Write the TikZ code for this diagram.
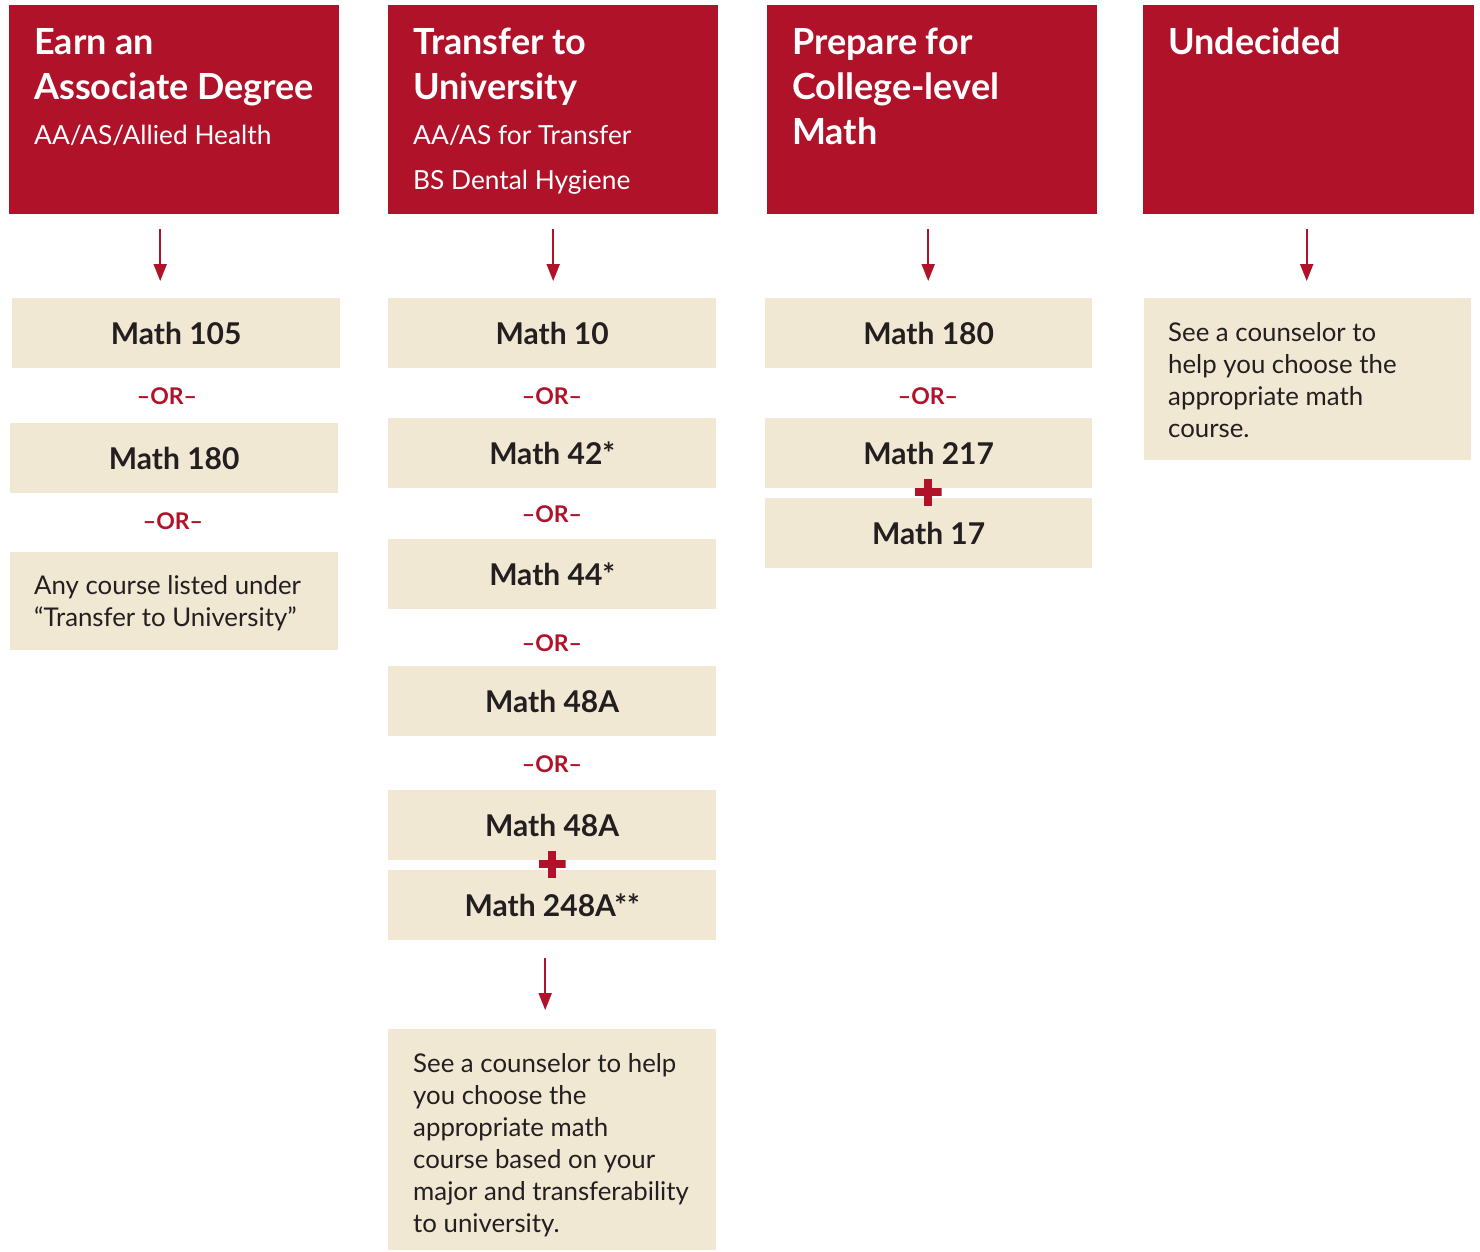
\documentclass[tikz,border=0pt]{standalone}
\usepackage{fontspec}
\setmainfont{Lato}
\usetikzlibrary{arrows.meta,positioning}
\definecolor{cred}{HTML}{AF1229}
\definecolor{cbeige}{HTML}{F1E8D3}
\definecolor{cink}{HTML}{231F20}
\newcommand\hdsub{\fontsize{26.3}{45}\selectfont\mdseries}

\tikzset{
  head/.style={fill=cred, minimum width=330pt, minimum height=209pt, anchor=north west, inner sep=0},
  headtxt/.style={anchor=north west, inner sep=0, align=left, text=white, font=\fontsize{36}{45}\selectfont\bfseries},
  course/.style={fill=cbeige, minimum width=328pt, minimum height=70pt, anchor=north west, inner sep=0, text=cink, font=\fontsize{30}{36}\selectfont\bfseries},
  note/.style={fill=cbeige, minimum width=328pt, anchor=north west, inner sep=0},
  notetxt/.style={anchor=west, inner sep=0, align=left, text=cink, font=\fontsize{25.8}{32}\selectfont},
  ortxt/.style={text=cred, inner sep=0, font=\fontsize{23}{26}\selectfont\bfseries},
  plus/.style={minimum size=27pt, inner sep=0, path picture={
      \draw[cred, line width=8pt] (path picture bounding box.north) -- (path picture bounding box.south)
        (path picture bounding box.west) -- (path picture bounding box.east);}},
  flow/.style={draw=cred, line width=2pt, -{Triangle[width=13pt,length=17pt]}, shorten <=15pt, shorten >=17pt},
}

\begin{document}
\begin{tikzpicture}[x=1pt, y=-1pt]
\fill[white] (0,0) rectangle (1480,1251);
\useasboundingbox (0,0) rectangle (1480,1251);

% headers
\node[head] (h1) at (9,5) {};
\node[head] (h2) at (388,5) {};
\node[head] (h3) at (767,5) {};
\node[head, minimum width=331pt] (h4) at (1143,5) {};
\node[headtxt] (t1) at ([shift={(25pt,-23pt)}]h1.north west) {Earn an\\Associate Degree\\{\hdsub AA/AS/Allied Health}};
\node[headtxt] (t2) at ([shift={(25pt,-23pt)}]h2.north west) {Transfer to\\University\\{\hdsub AA/AS for Transfer}\\{\hdsub BS Dental Hygiene}};
\node[headtxt] (t3) at ([shift={(25pt,-23pt)}]h3.north west) {Prepare for\\College-level\\Math};
\node[headtxt] (t4) at ([shift={(25pt,-23pt)}]h4.north west) {Undecided};

% associate degree
\node[course] (m105) at (12,298) {Math 105};
\node[ortxt] (or11) at (167,396) {--OR--};
\node[course] (m180a) at (10,423) {Math 180};
\node[ortxt] (or12) at (173,521) {--OR--};
\node[note, minimum height=98pt] (any) at (10,552) {};
\node[notetxt] (anytxt) at ([shift={(24pt,-2pt)}]any.west) {Any course listed under\\“Transfer to University”};

% transfer
\node[course] (m10) at (388,298) {Math 10};
\node[ortxt] (or21) at (552,396) {--OR--};
\node[course] (m42) at (388,418) {Math 42*};
\node[ortxt] (or22) at (552,514) {--OR--};
\node[course] (m44) at (388,539) {Math 44*};
\node[ortxt] (or23) at (552,643) {--OR--};
\node[course] (m48a) at (388,666) {Math 48A};
\node[ortxt] (or24) at (552,764) {--OR--};
\node[course] (m48b) at (388,790) {Math 48A};
\node[course] (m248) at (388,870) {Math 248A**};
\node[plus] (p2) at (552,864) {};
\node[note, minimum height=221pt] (c2) at (388,1029) {};
\node[notetxt] (c2txt) at ([shift={(25pt,-5pt)}]c2.west) {See a counselor to help\\you choose the\\appropriate math\\course based on your\\major and transferability\\to university.};

% college-level math
\node[course, minimum width=327pt] (m180b) at (765,298) {Math 180};
\node[ortxt] (or31) at (928,396) {--OR--};
\node[course, minimum width=327pt] (m217) at (765,418) {Math 217};
\node[course, minimum width=327pt] (m17) at (765,498) {Math 17};
\node[plus] (p3) at (928,492) {};

% undecided
\node[note, minimum width=327pt, minimum height=162pt] (c4) at (1144,298) {};
\node[notetxt] (c4txt) at ([shift={(24pt,-1pt)}]c4.west) {See a counselor to\\help you choose the\\appropriate math\\course.};

% arrows
\draw[flow] ([xshift=-14pt]h1.south) -- ([xshift=-14pt]h1.south |- m105.north);
\draw[flow] (h2.south) -- (h2.south |- m10.north);
\draw[flow] ([xshift=-4pt]h3.south) -- ([xshift=-4pt]h3.south |- m180b.north);
\draw[flow] ([xshift=-2pt]h4.south) -- ([xshift=-2pt]h4.south |- c4.north);
\draw[flow, shorten <=18pt, shorten >=19pt] ([xshift=-7pt]m248.south) -- ([xshift=-7pt]m248.south |- c2.north);
\end{tikzpicture}
\end{document}
